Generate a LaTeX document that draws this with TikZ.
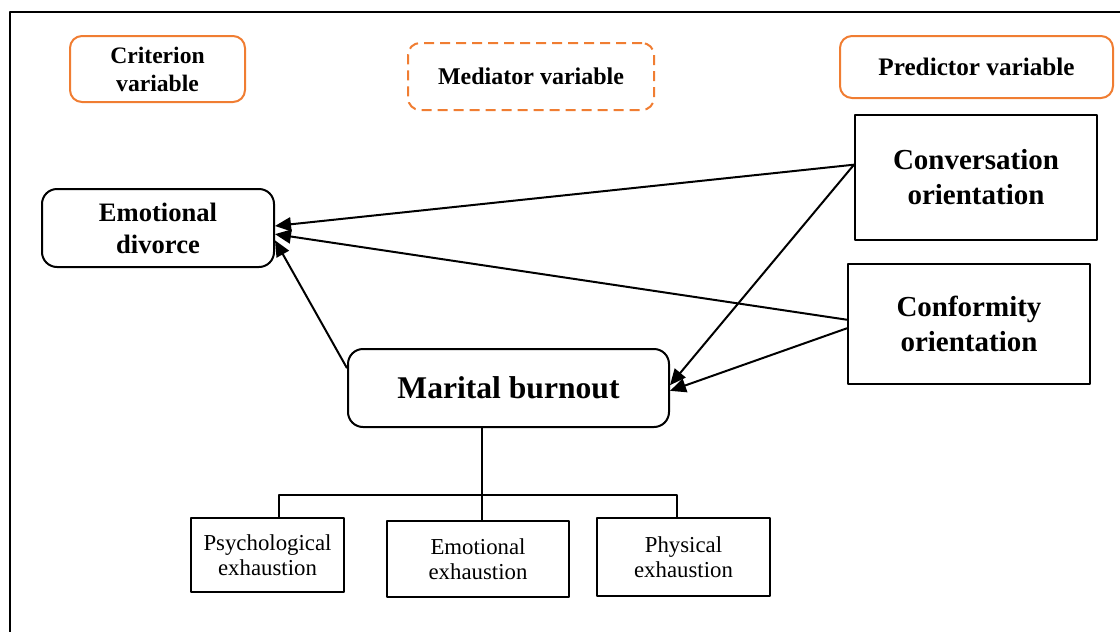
\documentclass[tikz,border=0pt]{standalone}
\usepackage{fontspec}
\setmainfont{Liberation Serif}
\usetikzlibrary{arrows.meta}
\definecolor{boxorange}{RGB}{240,125,50}

\begin{document}
\begin{tikzpicture}[x=0.5pt,y=-0.5pt,line join=round,
    keybox/.style={draw=boxorange,line width=1pt,rounded corners=6pt,inner sep=0pt,align=center,
      font=\bfseries\fontsize{11.8}{14}\selectfont},
    varbox/.style={draw,line width=1pt,inner sep=0pt,align=center,
      font=\bfseries\fontsize{14.5}{17.5}\selectfont},
    dimbox/.style={draw,line width=1pt,inner sep=0pt,align=center,
      font=\fontsize{11.4}{12.5}\selectfont},
    link/.style={line width=1pt,-{Triangle[length=8pt,width=7pt]}}]
  \useasboundingbox (0,0) rectangle (1120,632);
  \draw[line width=1pt] (1120,12) -- (10,12) -- (10,632);

  % legend boxes
  \node[keybox,minimum width=87.5pt,minimum height=33pt] (crit) at (157.5,69) {Criterion\\variable};
  \node[keybox,dashed,dash pattern=on 5pt off 3pt,minimum width=123pt,minimum height=33.5pt,
    font=\bfseries\fontsize{12}{14}\selectfont] (med) at (531,76.5) {Mediator variable};
  \node[keybox,minimum width=136.5pt,minimum height=31pt,
    font=\bfseries\fontsize{12.6}{14}\selectfont] (pred) at (976.5,67) {Predictor variable};

  % variables
  \node[varbox,rounded corners=7.5pt,minimum width=116pt,minimum height=39pt,
    font=\bfseries\fontsize{13.3}{16}\selectfont] (ed) at (158,228) {Emotional\\divorce};
  \node[varbox,minimum width=121pt,minimum height=62.5pt] (conv) at (976,177.5) {Conversation\\orientation};
  \node[varbox,minimum width=121pt,minimum height=60pt] (conf) at (969,324) {Conformity\\orientation};
  \node[varbox,rounded corners=7.5pt,minimum width=160.5pt,minimum height=39pt,
    font=\bfseries\fontsize{15.8}{17}\selectfont] (mb) at (508.5,388) {Marital burnout};

  % dimensions of burnout
  \node[dimbox,minimum width=76.5pt,minimum height=37pt] (psy) at (267.5,555) {Psychological\\exhaustion};
  \node[dimbox,minimum width=91pt,minimum height=38pt] (emo) at (478,559) {Emotional\\exhaustion};
  \node[dimbox,minimum width=86.5pt,minimum height=39pt] (phy) at (683.5,557) {Physical\\exhaustion};

  \draw[link] (conv.174) -- (ed.1);
  \draw[link] (conf.178) -- (ed.-3);
  \draw[link] (mb.173) -- (ed.-6);
  \draw[link] (conv.174) -- (mb.1);
  \draw[link] (conf.182) -- (mb.-1);

  \coordinate (fork) at (482,495);
  \draw[line width=1pt] (mb.south -| fork) -- (emo.north -| fork);
  \draw[line width=1pt] ([xshift=5.75pt]psy.north) |- (fork) -| ([xshift=-3.25pt]phy.north);
\end{tikzpicture}
\end{document}
